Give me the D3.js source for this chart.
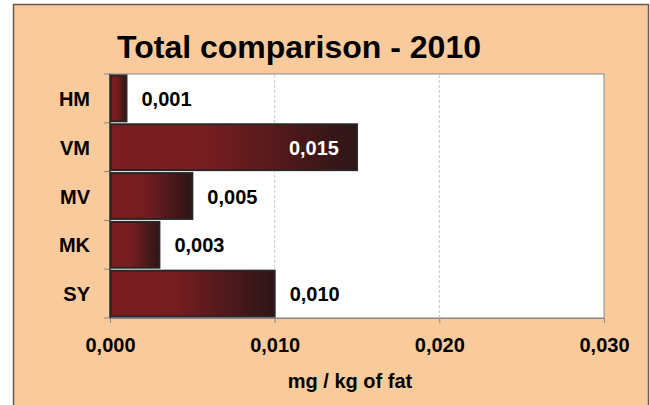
<!DOCTYPE html>
<html>
<head>
<meta charset="utf-8">
<script src="https://cdn.jsdelivr.net/npm/d3@7"></script>
<style>
  body { margin: 0; background: #fff; }
  svg text { font-family: "Liberation Sans", Arial, sans-serif; font-weight: bold; }
</style>
</head>
<body>
<div id="chart"></div>
<script>
// chart data
const categories = ['HM', 'VM', 'MV', 'MK', 'SY'];
const values = [0.001, 0.015, 0.005, 0.003, 0.010];
const tickValues = [0, 0.01, 0.02, 0.03];

const width = 650, height = 405;
const plot = { left: 110, right: 604, top: 74, bottom: 318 };

const svg = d3.select('#chart').append('svg')
  .attr('width', width)
  .attr('height', height);

// gradient for the bars
const defs = svg.append('defs');
const grad = defs.append('linearGradient')
  .attr('id', 'barGrad')
  .attr('x1', '0%').attr('x2', '100%')
  .attr('y1', '0%').attr('y2', '0%');
grad.append('stop').attr('offset', '0%').attr('stop-color', '#7c1d20');
grad.append('stop').attr('offset', '40%').attr('stop-color', '#761d20');
grad.append('stop').attr('offset', '100%').attr('stop-color', '#2c1517');

// outer frame
svg.append('rect')
  .attr('x', 13.5).attr('y', 4.5)
  .attr('width', 635).attr('height', 420)
  .attr('fill', '#f9cb9c')
  .attr('stroke', '#6b5a4c')
  .attr('stroke-width', 1.5);

// title
svg.append('text')
  .attr('x', 299)
  .attr('y', 58)
  .attr('text-anchor', 'middle')
  .attr('font-size', 32)
  .attr('fill', '#000')
  .text('Total comparison - 2010');

const x = d3.scaleLinear()
  .domain([0, 0.03])
  .range([plot.left, plot.right]);

const y = d3.scaleBand()
  .domain(categories)
  .range([plot.top, plot.bottom])
  .paddingInner(0.06)
  .paddingOuter(0.03);

// plot background
svg.append('rect')
  .attr('x', plot.left).attr('y', plot.top)
  .attr('width', plot.right - plot.left)
  .attr('height', plot.bottom - plot.top)
  .attr('fill', '#fff')
  .attr('stroke', '#8a8490')
  .attr('stroke-width', 1);

// gridlines
svg.append('g')
  .selectAll('line')
  .data(tickValues.slice(1, -1))
  .join('line')
  .attr('x1', d => x(d)).attr('x2', d => x(d))
  .attr('y1', plot.top + 1).attr('y2', plot.bottom)
  .attr('stroke', '#c8c8c8')
  .attr('stroke-dasharray', '3,2');

// x axis
const fmt = d => d3.format('.3f')(d).replace('.', ',');
const xAxis = svg.append('g')
  .attr('transform', `translate(0,${plot.bottom})`)
  .call(d3.axisBottom(x).tickValues(tickValues).tickSize(5).tickSizeOuter(0).tickFormat(fmt));
xAxis.select('.domain').attr('stroke', '#8a8490');
xAxis.selectAll('.tick line').attr('stroke', '#8a8490');
xAxis.selectAll('.tick text')
  .attr('font-size', 20)
  .attr('font-family', '"Liberation Sans", Arial, sans-serif')
  .attr('font-weight', 'bold')
  .attr('fill', '#000')
  .attr('dy', 0)
  .attr('y', 34);

// y axis
const bandEdges = categories.map(c => y(c) - y.step() * y.paddingInner() / 2).concat([plot.bottom]);
svg.append('g')
  .selectAll('line')
  .data(bandEdges)
  .join('line')
  .attr('x1', plot.left - 6).attr('x2', plot.left)
  .attr('y1', d => d).attr('y2', d => d)
  .attr('stroke', '#8a8490');
svg.append('line')
  .attr('x1', plot.left).attr('x2', plot.left)
  .attr('y1', plot.top).attr('y2', plot.bottom)
  .attr('stroke', '#333')
  .attr('stroke-width', 1.5);

svg.append('g')
  .selectAll('text')
  .data(categories)
  .join('text')
  .attr('x', 90)
  .attr('y', d => y(d) + y.bandwidth() / 2)
  .attr('dy', '0.38em')
  .attr('text-anchor', 'end')
  .attr('font-size', 20)
  .attr('fill', '#000')
  .text(d => d);

// bars
const data = categories.map((c, i) => ({ cat: c, val: values[i] }));
svg.append('g')
  .selectAll('rect')
  .data(data)
  .join('rect')
  .attr('x', x(0) + 1)
  .attr('y', d => y(d.cat))
  .attr('width', d => x(d.val) - x(0) - 1)
  .attr('height', y.bandwidth())
  .attr('fill', 'url(#barGrad)')
  .attr('stroke', '#2b2626')
  .attr('stroke-width', 2);

// value labels
const maxVal = d3.max(values);
svg.append('g')
  .selectAll('text')
  .data(data)
  .join('text')
  .attr('x', d => d.val === maxVal ? x(d.val) - 18 : x(d.val) + 15)
  .attr('y', d => y(d.cat) + y.bandwidth() / 2)
  .attr('dy', '0.38em')
  .attr('text-anchor', d => d.val === maxVal ? 'end' : 'start')
  .attr('font-size', 20)
  .attr('fill', d => d.val === maxVal ? '#fff' : '#000')
  .text(d => fmt(d.val));

// x axis title
svg.append('text')
  .attr('x', 350)
  .attr('y', 388)
  .attr('text-anchor', 'middle')
  .attr('font-size', 20)
  .attr('fill', '#000')
  .text('mg / kg of fat');
</script>
</body>
</html>
